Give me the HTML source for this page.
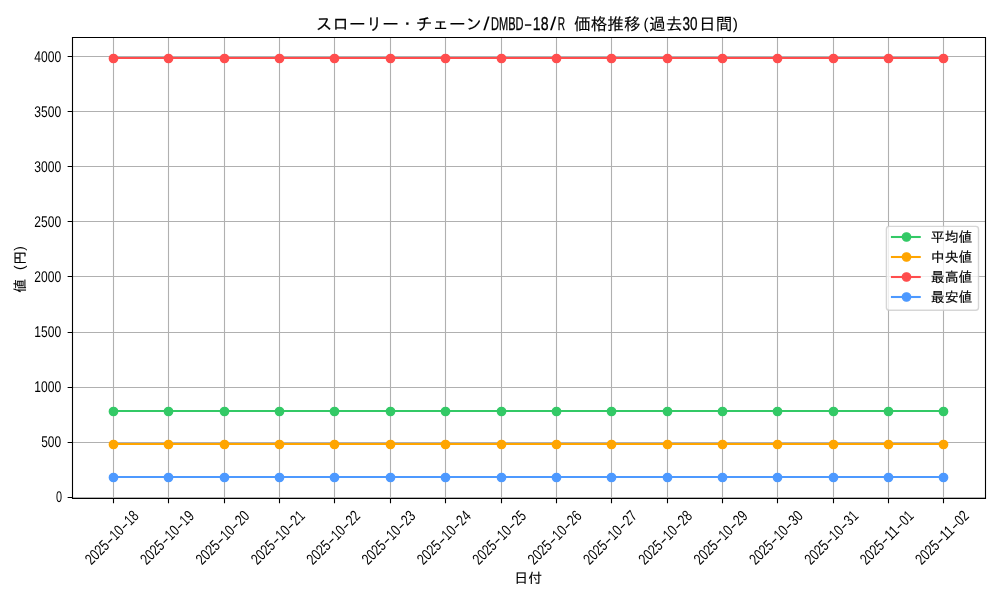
<!DOCTYPE html>
<html lang="ja"><head><meta charset="utf-8"><title>価格推移</title>
<style>html,body{margin:0;padding:0;background:#fff}svg{display:block}text{text-rendering:geometricPrecision;font-family:"Liberation Sans","IPAGothic",sans-serif;fill:#000}.j{stroke:#000;stroke-width:.15px;paint-order:stroke}.j .l{stroke-width:.3px}.j .p{stroke:none}.g{stroke:#b0b0b0;stroke-width:1.11;fill:none}.k{stroke:#000;stroke-width:1.11;fill:none}</style></head><body>
<svg width="1000" height="600" viewBox="0 0 1000 600">
<rect width="1000" height="600" fill="#fff"/>
<path class="g" d="M113.5 37.5V498.5M168.5 37.5V498.5M224.5 37.5V498.5M279.5 37.5V498.5M334.5 37.5V498.5M390.5 37.5V498.5M445.5 37.5V498.5M501.5 37.5V498.5M556.5 37.5V498.5M611.5 37.5V498.5M667.5 37.5V498.5M722.5 37.5V498.5M777.5 37.5V498.5M833.5 37.5V498.5M888.5 37.5V498.5M943.5 37.5V498.5M72.5 497.5H985.5M72.5 442.5H985.5M72.5 387.5H985.5M72.5 332.5H985.5M72.5 276.5H985.5M72.5 221.5H985.5M72.5 166.5H985.5M72.5 111.5H985.5M72.5 56.5H985.5"/>
<g fill="#33C966" stroke="#33C966">
<path d="M113.07 411.00H943.33" stroke-width="2.08" fill="none" stroke-linecap="square"/>
<circle cx="113.5" cy="411.5" r="4.17" stroke-width="1.39"/>
<circle cx="168.5" cy="411.5" r="4.17" stroke-width="1.39"/>
<circle cx="224.5" cy="411.5" r="4.17" stroke-width="1.39"/>
<circle cx="279.5" cy="411.5" r="4.17" stroke-width="1.39"/>
<circle cx="334.5" cy="411.5" r="4.17" stroke-width="1.39"/>
<circle cx="390.5" cy="411.5" r="4.17" stroke-width="1.39"/>
<circle cx="445.5" cy="411.5" r="4.17" stroke-width="1.39"/>
<circle cx="501.5" cy="411.5" r="4.17" stroke-width="1.39"/>
<circle cx="556.5" cy="411.5" r="4.17" stroke-width="1.39"/>
<circle cx="611.5" cy="411.5" r="4.17" stroke-width="1.39"/>
<circle cx="667.5" cy="411.5" r="4.17" stroke-width="1.39"/>
<circle cx="722.5" cy="411.5" r="4.17" stroke-width="1.39"/>
<circle cx="777.5" cy="411.5" r="4.17" stroke-width="1.39"/>
<circle cx="833.5" cy="411.5" r="4.17" stroke-width="1.39"/>
<circle cx="888.5" cy="411.5" r="4.17" stroke-width="1.39"/>
<circle cx="943.5" cy="411.5" r="4.17" stroke-width="1.39"/>
</g>
<g fill="#FFA500" stroke="#FFA500">
<path d="M113.07 444.00H943.33" stroke-width="2.08" fill="none" stroke-linecap="square"/>
<circle cx="113.5" cy="444.5" r="4.17" stroke-width="1.39"/>
<circle cx="168.5" cy="444.5" r="4.17" stroke-width="1.39"/>
<circle cx="224.5" cy="444.5" r="4.17" stroke-width="1.39"/>
<circle cx="279.5" cy="444.5" r="4.17" stroke-width="1.39"/>
<circle cx="334.5" cy="444.5" r="4.17" stroke-width="1.39"/>
<circle cx="390.5" cy="444.5" r="4.17" stroke-width="1.39"/>
<circle cx="445.5" cy="444.5" r="4.17" stroke-width="1.39"/>
<circle cx="501.5" cy="444.5" r="4.17" stroke-width="1.39"/>
<circle cx="556.5" cy="444.5" r="4.17" stroke-width="1.39"/>
<circle cx="611.5" cy="444.5" r="4.17" stroke-width="1.39"/>
<circle cx="667.5" cy="444.5" r="4.17" stroke-width="1.39"/>
<circle cx="722.5" cy="444.5" r="4.17" stroke-width="1.39"/>
<circle cx="777.5" cy="444.5" r="4.17" stroke-width="1.39"/>
<circle cx="833.5" cy="444.5" r="4.17" stroke-width="1.39"/>
<circle cx="888.5" cy="444.5" r="4.17" stroke-width="1.39"/>
<circle cx="943.5" cy="444.5" r="4.17" stroke-width="1.39"/>
</g>
<g fill="#FF4D4D" stroke="#FF4D4D">
<path d="M113.07 58.00H943.33" stroke-width="2.08" fill="none" stroke-linecap="square"/>
<circle cx="113.5" cy="58.5" r="4.17" stroke-width="1.39"/>
<circle cx="168.5" cy="58.5" r="4.17" stroke-width="1.39"/>
<circle cx="224.5" cy="58.5" r="4.17" stroke-width="1.39"/>
<circle cx="279.5" cy="58.5" r="4.17" stroke-width="1.39"/>
<circle cx="334.5" cy="58.5" r="4.17" stroke-width="1.39"/>
<circle cx="390.5" cy="58.5" r="4.17" stroke-width="1.39"/>
<circle cx="445.5" cy="58.5" r="4.17" stroke-width="1.39"/>
<circle cx="501.5" cy="58.5" r="4.17" stroke-width="1.39"/>
<circle cx="556.5" cy="58.5" r="4.17" stroke-width="1.39"/>
<circle cx="611.5" cy="58.5" r="4.17" stroke-width="1.39"/>
<circle cx="667.5" cy="58.5" r="4.17" stroke-width="1.39"/>
<circle cx="722.5" cy="58.5" r="4.17" stroke-width="1.39"/>
<circle cx="777.5" cy="58.5" r="4.17" stroke-width="1.39"/>
<circle cx="833.5" cy="58.5" r="4.17" stroke-width="1.39"/>
<circle cx="888.5" cy="58.5" r="4.17" stroke-width="1.39"/>
<circle cx="943.5" cy="58.5" r="4.17" stroke-width="1.39"/>
</g>
<g fill="#4D99FF" stroke="#4D99FF">
<path d="M113.07 477.00H943.33" stroke-width="2.08" fill="none" stroke-linecap="square"/>
<circle cx="113.5" cy="477.5" r="4.17" stroke-width="1.39"/>
<circle cx="168.5" cy="477.5" r="4.17" stroke-width="1.39"/>
<circle cx="224.5" cy="477.5" r="4.17" stroke-width="1.39"/>
<circle cx="279.5" cy="477.5" r="4.17" stroke-width="1.39"/>
<circle cx="334.5" cy="477.5" r="4.17" stroke-width="1.39"/>
<circle cx="390.5" cy="477.5" r="4.17" stroke-width="1.39"/>
<circle cx="445.5" cy="477.5" r="4.17" stroke-width="1.39"/>
<circle cx="501.5" cy="477.5" r="4.17" stroke-width="1.39"/>
<circle cx="556.5" cy="477.5" r="4.17" stroke-width="1.39"/>
<circle cx="611.5" cy="477.5" r="4.17" stroke-width="1.39"/>
<circle cx="667.5" cy="477.5" r="4.17" stroke-width="1.39"/>
<circle cx="722.5" cy="477.5" r="4.17" stroke-width="1.39"/>
<circle cx="777.5" cy="477.5" r="4.17" stroke-width="1.39"/>
<circle cx="833.5" cy="477.5" r="4.17" stroke-width="1.39"/>
<circle cx="888.5" cy="477.5" r="4.17" stroke-width="1.39"/>
<circle cx="943.5" cy="477.5" r="4.17" stroke-width="1.39"/>
</g>
<path class="k" d="M113.5 498.5v4.86M168.5 498.5v4.86M224.5 498.5v4.86M279.5 498.5v4.86M334.5 498.5v4.86M390.5 498.5v4.86M445.5 498.5v4.86M501.5 498.5v4.86M556.5 498.5v4.86M611.5 498.5v4.86M667.5 498.5v4.86M722.5 498.5v4.86M777.5 498.5v4.86M833.5 498.5v4.86M888.5 498.5v4.86M943.5 498.5v4.86M72.5 497.5h-4.86M72.5 442.5h-4.86M72.5 387.5h-4.86M72.5 332.5h-4.86M72.5 276.5h-4.86M72.5 221.5h-4.86M72.5 166.5h-4.86M72.5 111.5h-4.86M72.5 56.5h-4.86"/>
<path class="k" stroke-linecap="square" d="M72.5 37.5H985.5V498.5H72.5Z"/>
<text transform="translate(62.00 502.00) scale(1 1.000)" font-size="15.5" text-anchor="end" textLength="6.04" lengthAdjust="spacingAndGlyphs">0</text>
<text transform="translate(61.10 447.00) scale(1 1.000)" font-size="15.5" text-anchor="end" textLength="19.93" lengthAdjust="spacingAndGlyphs">500</text>
<text transform="translate(61.10 392.00) scale(1 1.000)" font-size="15.5" text-anchor="end" textLength="26.88" lengthAdjust="spacingAndGlyphs">1000</text>
<text transform="translate(61.10 337.00) scale(1 1.000)" font-size="15.5" text-anchor="end" textLength="26.88" lengthAdjust="spacingAndGlyphs">1500</text>
<text transform="translate(61.10 282.00) scale(1 1.000)" font-size="15.5" text-anchor="end" textLength="26.88" lengthAdjust="spacingAndGlyphs">2000</text>
<text transform="translate(61.10 227.00) scale(1 1.000)" font-size="15.5" text-anchor="end" textLength="26.88" lengthAdjust="spacingAndGlyphs">2500</text>
<text transform="translate(61.10 172.00) scale(1 1.000)" font-size="15.5" text-anchor="end" textLength="26.88" lengthAdjust="spacingAndGlyphs">3000</text>
<text transform="translate(61.10 117.00) scale(1 1.000)" font-size="15.5" text-anchor="end" textLength="26.88" lengthAdjust="spacingAndGlyphs">3500</text>
<text transform="translate(61.10 62.00) scale(1 1.000)" font-size="15.5" text-anchor="end" textLength="26.88" lengthAdjust="spacingAndGlyphs">4000</text>
<text transform="translate(111.77 537.00) rotate(-45)" y="5.6" font-size="15.4"><tspan x="-34.67" textLength="26.88" lengthAdjust="spacingAndGlyphs">2025</tspan><tspan x="-7.54" textLength="7.34" lengthAdjust="spacingAndGlyphs">-</tspan><tspan x="0.05" textLength="12.99" lengthAdjust="spacingAndGlyphs">10</tspan><tspan x="13.29" textLength="7.34" lengthAdjust="spacingAndGlyphs">-</tspan><tspan x="20.88" textLength="12.99" lengthAdjust="spacingAndGlyphs">18</tspan></text>
<text transform="translate(167.12 537.00) rotate(-45)" y="5.6" font-size="15.4"><tspan x="-34.67" textLength="26.88" lengthAdjust="spacingAndGlyphs">2025</tspan><tspan x="-7.54" textLength="7.34" lengthAdjust="spacingAndGlyphs">-</tspan><tspan x="0.05" textLength="12.99" lengthAdjust="spacingAndGlyphs">10</tspan><tspan x="13.29" textLength="7.34" lengthAdjust="spacingAndGlyphs">-</tspan><tspan x="20.88" textLength="12.99" lengthAdjust="spacingAndGlyphs">19</tspan></text>
<text transform="translate(222.47 537.00) rotate(-45)" y="5.6" font-size="15.4"><tspan x="-34.67" textLength="26.88" lengthAdjust="spacingAndGlyphs">2025</tspan><tspan x="-7.54" textLength="7.34" lengthAdjust="spacingAndGlyphs">-</tspan><tspan x="0.05" textLength="12.99" lengthAdjust="spacingAndGlyphs">10</tspan><tspan x="13.29" textLength="7.34" lengthAdjust="spacingAndGlyphs">-</tspan><tspan x="20.88" textLength="12.99" lengthAdjust="spacingAndGlyphs">20</tspan></text>
<text transform="translate(277.82 537.00) rotate(-45)" y="5.6" font-size="15.4"><tspan x="-34.67" textLength="26.88" lengthAdjust="spacingAndGlyphs">2025</tspan><tspan x="-7.54" textLength="7.34" lengthAdjust="spacingAndGlyphs">-</tspan><tspan x="0.05" textLength="12.99" lengthAdjust="spacingAndGlyphs">10</tspan><tspan x="13.29" textLength="7.34" lengthAdjust="spacingAndGlyphs">-</tspan><tspan x="20.88" textLength="12.99" lengthAdjust="spacingAndGlyphs">21</tspan></text>
<text transform="translate(333.17 537.00) rotate(-45)" y="5.6" font-size="15.4"><tspan x="-34.67" textLength="26.88" lengthAdjust="spacingAndGlyphs">2025</tspan><tspan x="-7.54" textLength="7.34" lengthAdjust="spacingAndGlyphs">-</tspan><tspan x="0.05" textLength="12.99" lengthAdjust="spacingAndGlyphs">10</tspan><tspan x="13.29" textLength="7.34" lengthAdjust="spacingAndGlyphs">-</tspan><tspan x="20.88" textLength="12.99" lengthAdjust="spacingAndGlyphs">22</tspan></text>
<text transform="translate(388.52 537.00) rotate(-45)" y="5.6" font-size="15.4"><tspan x="-34.67" textLength="26.88" lengthAdjust="spacingAndGlyphs">2025</tspan><tspan x="-7.54" textLength="7.34" lengthAdjust="spacingAndGlyphs">-</tspan><tspan x="0.05" textLength="12.99" lengthAdjust="spacingAndGlyphs">10</tspan><tspan x="13.29" textLength="7.34" lengthAdjust="spacingAndGlyphs">-</tspan><tspan x="20.88" textLength="12.99" lengthAdjust="spacingAndGlyphs">23</tspan></text>
<text transform="translate(443.87 537.00) rotate(-45)" y="5.6" font-size="15.4"><tspan x="-34.67" textLength="26.88" lengthAdjust="spacingAndGlyphs">2025</tspan><tspan x="-7.54" textLength="7.34" lengthAdjust="spacingAndGlyphs">-</tspan><tspan x="0.05" textLength="12.99" lengthAdjust="spacingAndGlyphs">10</tspan><tspan x="13.29" textLength="7.34" lengthAdjust="spacingAndGlyphs">-</tspan><tspan x="20.88" textLength="12.99" lengthAdjust="spacingAndGlyphs">24</tspan></text>
<text transform="translate(499.22 537.00) rotate(-45)" y="5.6" font-size="15.4"><tspan x="-34.67" textLength="26.88" lengthAdjust="spacingAndGlyphs">2025</tspan><tspan x="-7.54" textLength="7.34" lengthAdjust="spacingAndGlyphs">-</tspan><tspan x="0.05" textLength="12.99" lengthAdjust="spacingAndGlyphs">10</tspan><tspan x="13.29" textLength="7.34" lengthAdjust="spacingAndGlyphs">-</tspan><tspan x="20.88" textLength="12.99" lengthAdjust="spacingAndGlyphs">25</tspan></text>
<text transform="translate(554.58 537.00) rotate(-45)" y="5.6" font-size="15.4"><tspan x="-34.67" textLength="26.88" lengthAdjust="spacingAndGlyphs">2025</tspan><tspan x="-7.54" textLength="7.34" lengthAdjust="spacingAndGlyphs">-</tspan><tspan x="0.05" textLength="12.99" lengthAdjust="spacingAndGlyphs">10</tspan><tspan x="13.29" textLength="7.34" lengthAdjust="spacingAndGlyphs">-</tspan><tspan x="20.88" textLength="12.99" lengthAdjust="spacingAndGlyphs">26</tspan></text>
<text transform="translate(609.93 537.00) rotate(-45)" y="5.6" font-size="15.4"><tspan x="-34.67" textLength="26.88" lengthAdjust="spacingAndGlyphs">2025</tspan><tspan x="-7.54" textLength="7.34" lengthAdjust="spacingAndGlyphs">-</tspan><tspan x="0.05" textLength="12.99" lengthAdjust="spacingAndGlyphs">10</tspan><tspan x="13.29" textLength="7.34" lengthAdjust="spacingAndGlyphs">-</tspan><tspan x="20.88" textLength="12.99" lengthAdjust="spacingAndGlyphs">27</tspan></text>
<text transform="translate(665.28 537.00) rotate(-45)" y="5.6" font-size="15.4"><tspan x="-34.67" textLength="26.88" lengthAdjust="spacingAndGlyphs">2025</tspan><tspan x="-7.54" textLength="7.34" lengthAdjust="spacingAndGlyphs">-</tspan><tspan x="0.05" textLength="12.99" lengthAdjust="spacingAndGlyphs">10</tspan><tspan x="13.29" textLength="7.34" lengthAdjust="spacingAndGlyphs">-</tspan><tspan x="20.88" textLength="12.99" lengthAdjust="spacingAndGlyphs">28</tspan></text>
<text transform="translate(720.63 537.00) rotate(-45)" y="5.6" font-size="15.4"><tspan x="-34.67" textLength="26.88" lengthAdjust="spacingAndGlyphs">2025</tspan><tspan x="-7.54" textLength="7.34" lengthAdjust="spacingAndGlyphs">-</tspan><tspan x="0.05" textLength="12.99" lengthAdjust="spacingAndGlyphs">10</tspan><tspan x="13.29" textLength="7.34" lengthAdjust="spacingAndGlyphs">-</tspan><tspan x="20.88" textLength="12.99" lengthAdjust="spacingAndGlyphs">29</tspan></text>
<text transform="translate(775.98 537.00) rotate(-45)" y="5.6" font-size="15.4"><tspan x="-34.67" textLength="26.88" lengthAdjust="spacingAndGlyphs">2025</tspan><tspan x="-7.54" textLength="7.34" lengthAdjust="spacingAndGlyphs">-</tspan><tspan x="0.05" textLength="12.99" lengthAdjust="spacingAndGlyphs">10</tspan><tspan x="13.29" textLength="7.34" lengthAdjust="spacingAndGlyphs">-</tspan><tspan x="20.88" textLength="12.99" lengthAdjust="spacingAndGlyphs">30</tspan></text>
<text transform="translate(831.33 537.00) rotate(-45)" y="5.6" font-size="15.4"><tspan x="-34.67" textLength="26.88" lengthAdjust="spacingAndGlyphs">2025</tspan><tspan x="-7.54" textLength="7.34" lengthAdjust="spacingAndGlyphs">-</tspan><tspan x="0.05" textLength="12.99" lengthAdjust="spacingAndGlyphs">10</tspan><tspan x="13.29" textLength="7.34" lengthAdjust="spacingAndGlyphs">-</tspan><tspan x="20.88" textLength="12.99" lengthAdjust="spacingAndGlyphs">31</tspan></text>
<text transform="translate(886.68 537.00) rotate(-45)" y="5.6" font-size="15.4"><tspan x="-34.67" textLength="26.88" lengthAdjust="spacingAndGlyphs">2025</tspan><tspan x="-7.54" textLength="7.34" lengthAdjust="spacingAndGlyphs">-</tspan><tspan x="0.05" textLength="12.99" lengthAdjust="spacingAndGlyphs">11</tspan><tspan x="13.29" textLength="7.34" lengthAdjust="spacingAndGlyphs">-</tspan><tspan x="20.88" textLength="12.99" lengthAdjust="spacingAndGlyphs">01</tspan></text>
<text transform="translate(942.03 537.00) rotate(-45)" y="5.6" font-size="15.4"><tspan x="-34.67" textLength="26.88" lengthAdjust="spacingAndGlyphs">2025</tspan><tspan x="-7.54" textLength="7.34" lengthAdjust="spacingAndGlyphs">-</tspan><tspan x="0.05" textLength="12.99" lengthAdjust="spacingAndGlyphs">11</tspan><tspan x="13.29" textLength="7.34" lengthAdjust="spacingAndGlyphs">-</tspan><tspan x="20.88" textLength="12.99" lengthAdjust="spacingAndGlyphs">02</tspan></text>
<text class="j" x="528.20" y="583.4" font-size="13.89" text-anchor="middle">日付</text>
<text class="j" transform="translate(25.1 268.33) rotate(-90)" font-size="13.89"><tspan x="-24.31" y="0">値 </tspan><tspan class="p" x="-1.67" y="-1.4" font-size="14.0" textLength="4.58" lengthAdjust="spacingAndGlyphs">(</tspan><tspan x="3.47" y="0">円</tspan><tspan class="p" x="17.64" y="-1.4" font-size="14.0" textLength="4.58" lengthAdjust="spacingAndGlyphs">)</tspan></text>
<text class="j" font-size="16.67"><tspan x="315.70" y="30.20">スローリー・チェーン</tspan><tspan class="p" x="483.37" y="29.60" font-size="18.6" textLength="6.33" lengthAdjust="spacingAndGlyphs">/</tspan><tspan class="l" x="491.10" y="29.60" font-size="18.6" textLength="32.50" lengthAdjust="spacingAndGlyphs">DMBD</tspan><tspan class="p" x="523.83" y="29.60" font-size="18.6" textLength="8.75" lengthAdjust="spacingAndGlyphs">-</tspan><tspan class="l" x="532.87" y="29.60" font-size="18.6" textLength="15.67" lengthAdjust="spacingAndGlyphs">18</tspan><tspan class="p" x="550.03" y="29.60" font-size="18.6" textLength="6.33" lengthAdjust="spacingAndGlyphs">/</tspan><tspan class="l" x="557.87" y="29.60" font-size="18.6" textLength="7.33" lengthAdjust="spacingAndGlyphs">R</tspan><tspan x="569.40" y="30.20"> 価格推移</tspan><tspan class="p" x="643.53" y="29.00" font-size="15.6" textLength="5.00" lengthAdjust="spacingAndGlyphs">(</tspan><tspan x="649.03" y="30.20">過去</tspan><tspan class="l" x="682.57" y="29.60" font-size="18.6" textLength="15.00" lengthAdjust="spacingAndGlyphs">30</tspan><tspan x="699.03" y="30.20">日間</tspan><tspan class="p" x="732.70" y="29.00" font-size="15.6" textLength="5.17" lengthAdjust="spacingAndGlyphs">)</tspan></text>
<rect x="886.4" y="226.4" width="92.1" height="83.9" rx="2.8" fill="#fff" fill-opacity="0.8" stroke="#ccc" stroke-opacity="0.8" stroke-width="1.39"/>
<g fill="#33C966" stroke="#33C966"><path d="M891.96 237.00H919.73" stroke-width="2.08" fill="none" stroke-linecap="square"/><circle cx="906.50" cy="237.00" r="4.17" stroke-width="1.39"/></g>
<text class="j" x="930.84" y="241.80" font-size="13.89">平均値</text>
<g fill="#FFA500" stroke="#FFA500"><path d="M891.96 257.00H919.73" stroke-width="2.08" fill="none" stroke-linecap="square"/><circle cx="906.50" cy="257.00" r="4.17" stroke-width="1.39"/></g>
<text class="j" x="930.84" y="261.73" font-size="13.89">中央値</text>
<g fill="#FF4D4D" stroke="#FF4D4D"><path d="M891.96 277.00H919.73" stroke-width="2.08" fill="none" stroke-linecap="square"/><circle cx="906.50" cy="277.00" r="4.17" stroke-width="1.39"/></g>
<text class="j" x="930.84" y="281.66" font-size="13.89">最高値</text>
<g fill="#4D99FF" stroke="#4D99FF"><path d="M891.96 297.00H919.73" stroke-width="2.08" fill="none" stroke-linecap="square"/><circle cx="906.50" cy="297.00" r="4.17" stroke-width="1.39"/></g>
<text class="j" x="930.84" y="301.59" font-size="13.89">最安値</text>
</svg></body></html>
